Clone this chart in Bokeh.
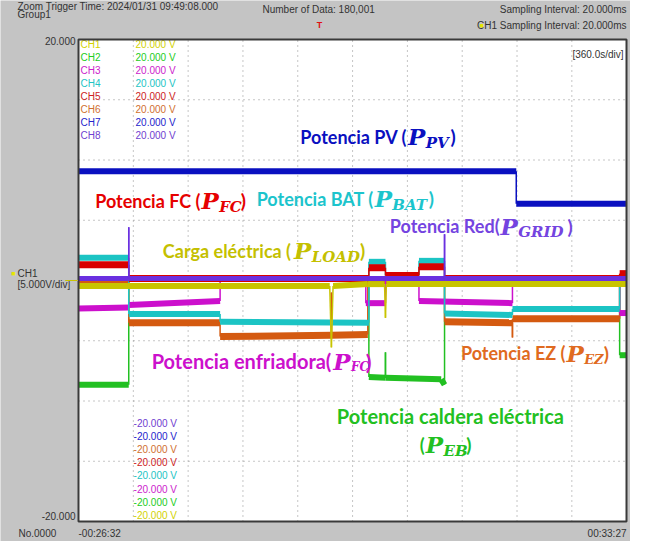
import numpy as np
from bokeh.plotting import figure
from bokeh.models import Label, Range1d, ColumnDataSource
from bokeh.embed import file_html
from bokeh.resources import INLINE
from bokeh.core.properties import value

# ---------------- data ----------------
T_START, T_END = -1592, 2007      # s  (-00:26:32 .. 00:33:27)
V_MIN, V_MAX = -20.0, 20.0
DIV_T = 360.0                      # s/div
DIV_V = 5.0                        # V/div

channels = ["CH1", "CH2", "CH3", "CH4", "CH5", "CH6", "CH7", "CH8"]
ch_text_colors = ["#d2d200", "#22cc22", "#cc22cc", "#22c4c4", "#cc2222", "#d07030", "#2424cc", "#7040d0"]
trace_colors = {"CH1": "#c8c400", "CH2": "#22c022", "CH3": "#cc10cc", "CH4": "#1cc4c4",
                "CH5": "#d80000", "CH6": "#d45a10", "CH7": "#0a10c0", "CH8": "#6a30e0"}
trace_widths = {"CH1": 6, "CH2": 6, "CH3": 6, "CH4": 6, "CH5": 7, "CH6": 7, "CH7": 6, "CH8": 5}

# CH1 - carga electrica (P_LOAD)
t_ch1 = [-1592, 58, 69, 80, 308, 418, 424, 430, 2007]
v_ch1 = [-0.45, -0.45, -5.55, -0.45, -0.30, -0.30, -3.10, -0.30, -0.30]
# CH2 - caldera electrica (P_EB)
t_ch2 = [-1592, -1262, -1262, 315, 315, 424, 424, 424, 790, 812, 812, 1962, 1962, 2007]
v_ch2 = [-8.65, -8.65, 0.16, 0.16, -8.00, -8.08, -5.96, -8.08, -8.20, -8.65, 0.16, 0.16, -6.20, -6.20]
# CH3 - enfriadora (P_FC)
t_ch3 = [-1592, -1262, -1262, -662, -662, 295, 295, 424, 424, 644, 644, 1258, 1258, 1962, 1962, 2007]
v_ch3 = [-2.33, -2.25, -2.04, -1.71, 0.16, 0.16, -1.88, -1.88, 0.16, 0.16, -1.71, -1.88, 0.16, 0.16, -2.70, -2.70]
# CH4 - bateria (P_BAT)
t_ch4 = [-1592, -1262, -1262, -662, -662, 315, 315, 424, 424, 644, 644, 812, 812, 1258, 1258, 1962, 1962, 2007]
v_ch4 = [1.88, 1.88, -2.78, -2.78, -3.43, -3.51, 1.55, 1.55, 0.41, 0.41, 1.63, 1.63, -2.74, -2.86, -2.37, -2.37, 0.16, 0.16]
# CH5 - pila de combustible (P_FC)
t_ch5 = [-1592, -1262, -1262, 315, 315, 424, 424, 644, 644, 812, 812, 1962, 1962, 2007]
v_ch5 = [1.31, 1.31, 0.16, 0.16, 1.06, 1.06, 0.41, 0.41, 1.14, 1.14, 0.16, 0.16, 0.57, 0.57]
# CH6 - electrolizador (P_EZ)
t_ch6 = [-1592, -1262, -1262, -662, -662, 69, 69, 69, 308, 308, 812, 812, 1258, 1258, 1258, 1962, 1962, 2007]
v_ch6 = [0.0, 0.0, -3.51, -3.51, -4.65, -4.55, -1.00, -4.55, -4.49, 0.0, 0.0, -3.43, -3.51, -4.73, -3.18, -3.18, 0.16, 0.16]
# CH7 - fotovoltaica (P_PV)
t_ch7 = [-1592, 1283, 1283, 2007]
v_ch7 = [9.06, 9.06, 6.37, 6.37]
# CH8 - red (P_GRID)
t_ch8 = [-1592, -1262, -1262, -1262, 812, 812, 812, 2007]
v_ch8 = [0.16, 0.16, 4.41, 0.16, 0.16, 3.84, 0.16, 0.16]

traces = {"CH1": (t_ch1, v_ch1), "CH2": (t_ch2, v_ch2), "CH3": (t_ch3, v_ch3), "CH4": (t_ch4, v_ch4),
          "CH5": (t_ch5, v_ch5), "CH6": (t_ch6, v_ch6), "CH7": (t_ch7, v_ch7), "CH8": (t_ch8, v_ch8)}
draw_order = ["CH2", "CH6", "CH3", "CH4", "CH5", "CH1", "CH8", "CH7"]

# ---------------- layout (page pixels) ----------------
W, H = 630, 541
PAGE_L, PAGE_R, PAGE_T, PAGE_B = 86, 634, 47, 529      # screen frame of the scope
kx = (T_END - T_START) / (PAGE_R - PAGE_L)
ky = (V_MAX - V_MIN) / (PAGE_B - PAGE_T)
x_rng = Range1d(T_START - (PAGE_L - 8) * kx, T_END + (8 + W - PAGE_R) * kx)
y_rng = Range1d(V_MIN - (8 + H - PAGE_B) * ky, V_MAX + (PAGE_T - 8) * ky)

p = figure(width=W, height=H, x_range=x_rng, y_range=y_rng,
           output_backend="svg", toolbar_location=None,
           x_axis_location=None, y_axis_location=None, min_border=0)
p.min_border_left = p.min_border_right = p.min_border_top = p.min_border_bottom = 0
p.background_fill_color = "#c4c4c4"
p.border_fill_color = "#c4c4c4"
p.outline_line_color = None
p.grid.visible = False

# white screen
p.quad(left=[T_START], right=[T_END], bottom=[V_MIN], top=[V_MAX], fill_color="#ffffff", line_color=None)

# dotted graticule
xt = [T_START + DIV_T * k for k in range(1, 10)]
yt = [V_MIN + DIV_V * k for k in range(1, 8)]
p.segment(x0=xt, x1=xt, y0=[V_MIN] * len(xt), y1=[V_MAX] * len(xt), line_color="#8c8c8c",
          line_dash="1 4", line_width=1)
p.segment(x0=[T_START] * len(yt), x1=[T_END] * len(yt), y0=yt, y1=yt, line_color="#8c8c8c",
          line_dash="1 4", line_width=1)


def px2t(px):
    return T_START + (px - 86) * (T_END - T_START) / 557.0


def py2v(py):
    return V_MAX - (py - 47) * (V_MAX - V_MIN) / 490.0


# channel lists
n = len(channels)
src_top = ColumnDataSource(dict(x=[px2t(88)] * n, y=[py2v(52 + 13.3 * i) for i in range(n)],
                                t=channels, c=ch_text_colors))
p.text(x="x", y="y", text="t", text_color="c", source=src_top, text_font=value("Liberation Sans"),
       text_font_size="10px", text_baseline="middle")
src_topv = ColumnDataSource(dict(x=[px2t(144)] * n, y=[py2v(52 + 13.3 * i) for i in range(n)],
                                 t=[f"{V_MAX:.3f} V"] * n, c=ch_text_colors))
p.text(x="x", y="y", text="t", text_color="c", source=src_topv, text_font=value("Liberation Sans"),
       text_font_size="10px", text_baseline="middle")
rev_colors = ch_text_colors[::-1]
src_bot = ColumnDataSource(dict(x=[px2t(142)] * n, y=[py2v(437 + 13.4 * i) for i in range(n)],
                                t=[f"{V_MIN:.3f} V"] * n, c=rev_colors))
p.text(x="x", y="y", text="t", text_color="c", source=src_bot, text_font=value("Liberation Sans"),
       text_font_size="10px", text_baseline="middle")

# traces: flat parts thick (noise band), steep parts thin
for ch in draw_order:
    t, v = traces[ch]
    t = np.asarray(t, float)
    v = np.asarray(v, float)
    flat = (t[1:] != t[:-1]) & (np.abs(v[1:] - v[:-1]) < 1.0)
    col = trace_colors[ch]
    p.segment(x0=t[:-1][flat], y0=v[:-1][flat], x1=t[1:][flat], y1=v[1:][flat],
              line_color=col, line_width=trace_widths[ch], line_cap="butt")
    steep = ~flat
    if steep.any():
        p.segment(x0=t[:-1][steep], y0=v[:-1][steep], x1=t[1:][steep], y1=v[1:][steep],
                  line_color=col, line_width=1.5)

# screen border
p.quad(left=[T_START], right=[T_END], bottom=[V_MIN], top=[V_MAX], fill_color=None,
       line_color="#3a3a3a", line_width=2)


def lab(text, px, py, color="#333333", size="10px", font="Liberation Sans", style="normal", align="left"):
    p.add_layout(Label(x=px2t(px), y=py2v(py), text=text, text_color=color, text_font=font,
                       text_font_size=size, text_font_style=style, text_align=align,
                       text_baseline="middle"))


# header / frame texts
lab("Zoom Trigger Time: 2024/01/31 09:49:08.000", 24, 13)
lab("Group1", 24, 22)
lab("Number of Data: 180,001", 273, 17)
lab("Sampling Interval: 20.000ms", 643, 17, align="right")
lab("CH1 Sampling Interval: 20.000ms", 643, 33, align="right")
lab("■", 498, 33, color="#e6e600", size="7px", align="right")
lab("T", 331, 32, color="#e01010", size="9px", style="bold", align="center")
lab("20.000", 83, 49, align="right")
lab("-20.000", 83, 531, align="right")
lab("No.0000", 25, 549)
lab("-00:26:32", 86, 549)
lab("00:33:27", 643, 549, align="right")
lab("[360.0s/div]", 640, 62, align="right")
lab("■", 22, 285, color="#e6e600", size="7px", align="right")
lab("CH1", 24, 285)
lab("[5.000V/div]", 24, 296)
lab("—", 79, 291, color="#c8c400", size="12px", align="center")

# annotations
SANS = "Lato"
SERIF = "DejaVu Serif"


def ann(prefix, pre_end, p_x, sub, close_x, py, color, size=18, sub_size=15):
    lab(prefix, pre_end, py, color=color, size=f"{size}px", font=SANS, style="bold", align="right")
    lab("P", p_x, py, color=color, size="23px", font=SERIF, style="bold italic")
    lab(sub, p_x + 18, py + 6, color=color, size=f"{sub_size}px", font=SERIF, style="bold italic")
    lab(")", close_x, py, color=color, size=f"{size + 1}px", font=SANS, style="bold")


ann("Potencia PV (", 420, 421, "PV", 464, 146, "#0a10c0")
ann("Potencia FC (", 210, 211, "FC", 251, 211, "#e60000")
ann("Potencia BAT (", 386, 387, "BAT", 442, 209, "#1cc4cc")
ann("Potencia Red(", 514, 515, "GRID", 583, 237, "#7444e0")
ann("Carga eléctrica (", 302, 305, "LOAD", 372, 262, "#c4c000")
ann("Potencia enfriadora(", 343, 345, "FC", 378, 374, "#cc10cc", size=20, sub_size=12)
ann("Potencia EZ (", 581, 582, "EZ", 620, 366, "#e06a20", sub_size=13)
lab("Potencia caldera eléctrica", 464, 430, color="#22c022", size="20px", font=SANS, style="bold", align="center")
ann("(", 438, 439, "EB", 480, 459, "#22c022")

open("out.html", "w").write(file_html(p, INLINE))
